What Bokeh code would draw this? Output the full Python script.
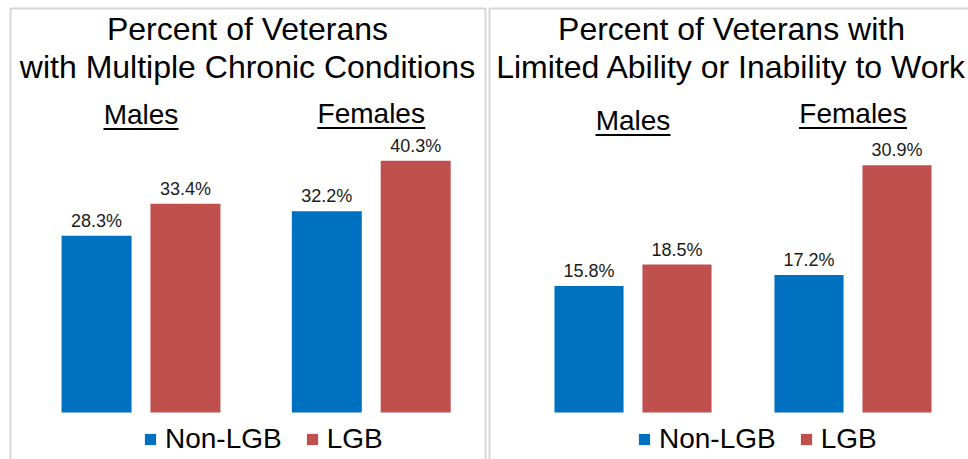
import numpy as np
from bokeh.plotting import figure
from bokeh.models import (ColumnDataSource, Range1d, Label, BoxAnnotation,
                          Legend, LegendItem)
from bokeh.transform import dodge
from bokeh.layouts import row
from bokeh.core.properties import value
from bokeh.embed import file_html
from bokeh.resources import INLINE

# ---------------- data ----------------
groups = ["Males", "Females"]
series = ["Non-LGB", "LGB"]
chronic_non_lgb = [28.3, 32.2]
chronic_lgb = [33.4, 40.3]
work_non_lgb = [15.8, 17.2]
work_lgb = [18.5, 30.9]
chronic_title = ["Percent of Veterans", "with Multiple Chronic Conditions"]
work_title = ["Percent of Veterans with", "Limited Ability or Inability to Work"]

# ---------------- style ----------------
BLUE = "#0070C0"
RED = "#C0504D"
GREY = "#7A7A7A"
FONT = "Liberation Sans"
H = 459
BASE_PAGE_Y = 412  # page y of the zero line
TITLE_SHIFT = 9    # compensation for renderer's baseline placement
SUB_SHIFT = 10
VAL_OFFSET = -15


def panel(width, px_per_unit_x, group0_px, px_per_pct, non_vals, lgb_vals,
          title_lines, title_cx, border_lr, sub_base_page_y, under_w,
          legend_loc, offset, bar_w):
    x_start = -group0_px / px_per_unit_x
    x_end = x_start + width / px_per_unit_x
    y_start = -(H - BASE_PAGE_Y) / px_per_pct
    y_end = y_start + H / px_per_pct

    p = figure(width=width, height=H, output_backend="svg",
               toolbar_location=None, x_range=Range1d(x_start, x_end),
               y_range=Range1d(y_start, y_end),
               min_border_left=0, min_border_right=0,
               min_border_top=0, min_border_bottom=0)
    p.axis.visible = False
    p.grid.visible = False
    p.outline_line_color = None
    p.background_fill_color = "white"
    p.border_fill_color = "white"

    src = ColumnDataSource(dict(
        idx=list(range(len(groups))),
        non=non_vals, lgb=lgb_vals,
        non_lab=[f"{v:.1f}%" for v in non_vals],
        lgb_lab=[f"{v:.1f}%" for v in lgb_vals],
    ))
    r1 = p.vbar(x=dodge("idx", -offset), top="non", bottom=0, width=bar_w,
                source=src, fill_color=BLUE, line_color=None)
    r2 = p.vbar(x=dodge("idx", offset), top="lgb", bottom=0, width=bar_w,
                source=src, fill_color=RED, line_color=None)
    for col, lab, off in (("non", "non_lab", -offset), ("lgb", "lgb_lab", offset)):
        p.text(x=dodge("idx", off), y=col, text=lab, source=src,
               y_offset=VAL_OFFSET,
               text_align="center", text_baseline="alphabetic",
               text_font=value(FONT), text_font_size="18px",
               text_color="#1a1a1a")

    # panel border
    p.add_layout(BoxAnnotation(left=border_lr[0], right=border_lr[1],
                               top=H - 8, bottom=-20,
                               left_units="screen", right_units="screen",
                               top_units="screen", bottom_units="screen",
                               fill_alpha=0, line_color=GREY, line_width=2))

    # titles
    for line, base in zip(title_lines, (37, 75)):
        p.add_layout(Label(x=title_cx, y=H - base + TITLE_SHIFT,
                           x_units="screen", y_units="screen", text=line,
                           text_align="center", text_baseline="alphabetic",
                           text_font=FONT, text_font_size="32px",
                           text_color="black"))

    # group sub-headings, underlined
    for i, g in enumerate(groups):
        p.add_layout(Label(x=i, y=H - sub_base_page_y[i] + SUB_SHIFT,
                           x_units="data", y_units="screen", text=g,
                           text_align="center", text_baseline="alphabetic",
                           text_font=FONT, text_font_size="28px",
                           text_color="black"))
    usrc = ColumnDataSource(dict(
        idx=list(range(len(groups))),
        y=[(BASE_PAGE_Y - (b + 4.5)) / px_per_pct for b in sub_base_page_y],
        w=under_w))
    p.rect(x="idx", y="y", width="w", height=2, width_units="screen",
           height_units="screen", source=usrc, fill_color="black",
           line_color=None)

    legend = Legend(items=[LegendItem(label=series[0], renderers=[r1]),
                           LegendItem(label=series[1], renderers=[r2])],
                    orientation="horizontal", location=legend_loc,
                    glyph_width=14, glyph_height=14, label_standoff=8,
                    spacing=23, padding=0, margin=0,
                    border_line_color=None, background_fill_alpha=0,
                    label_text_font=FONT, label_text_font_size="28px",
                    label_text_color="black")
    p.add_layout(legend)
    return p


p1 = panel(width=487, px_per_unit_x=230.25, group0_px=140.5, px_per_pct=6.25,
           non_vals=chronic_non_lgb, lgb_vals=chronic_lgb,
           title_lines=chronic_title, title_cx=247, border_lr=(10, 485),
           sub_base_page_y=[124, 123], under_w=[75, 108],
           legend_loc=(143, 4), offset=0.193, bar_w=0.304)
p2 = panel(width=481, px_per_unit_x=220.0, group0_px=145.5, px_per_pct=8.0,
           non_vals=work_non_lgb, lgb_vals=work_lgb,
           title_lines=work_title, title_cx=244, border_lr=(2, 520),
           sub_base_page_y=[130, 123], under_w=[75, 108],
           legend_loc=(150, 4), offset=0.2, bar_w=0.314)

layout = row(p1, p2, spacing=0)
open("out.html", "w").write(file_html(layout, INLINE))
